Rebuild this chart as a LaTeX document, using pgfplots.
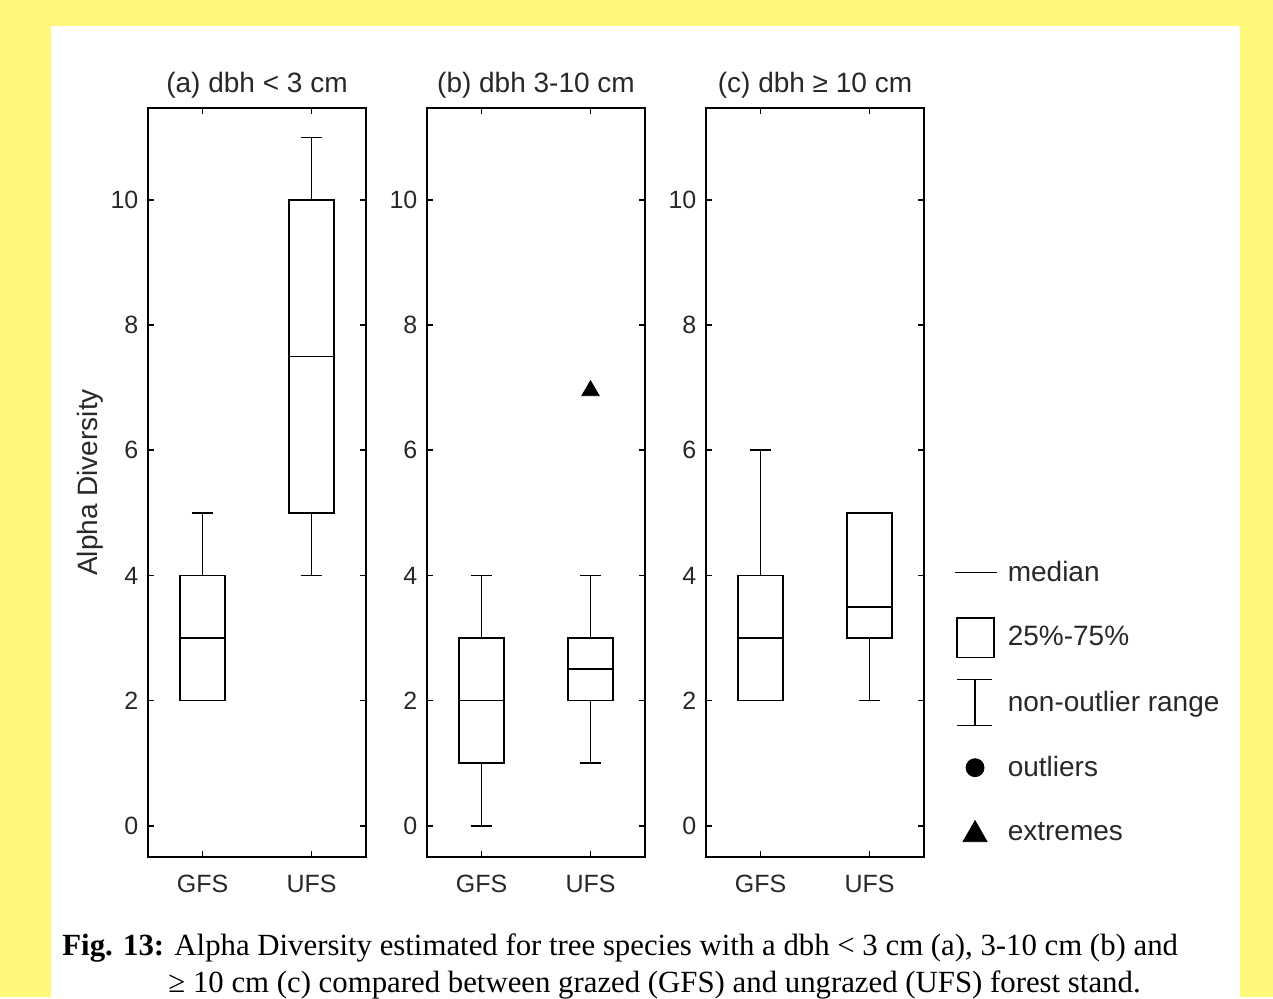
\documentclass[border=0pt]{standalone}
\usepackage{fontspec}
\setmainfont{Liberation Sans}
\newfontfamily\capfont{Liberation Serif}
\usepackage{pgfplots}
\pgfplotsset{compat=1.18}
\usepgfplotslibrary{statistics}
\definecolor{bgyellow}{RGB}{255,248,122}
\definecolor{txt}{RGB}{40,40,40}
\pgfplotsset{
  panel/.style={
    scale only axis, width=109pt, height=374.5pt,
    xmin=-0.5, xmax=1.5, ymin=-0.5, ymax=11.47,
    xtick={0,1}, xticklabels={GFS,UFS},
    ytick={0,2,4,6,8,10},
    /pgf/number format/assume math mode=true,
    tick align=inside, xtick pos=both, ytick pos=both,
    xticklabel pos=bottom, yticklabel pos=left,
    major tick length=3pt,
    axis line style={line width=1pt},
    every tick/.style={black, line width=0.8pt},
    tick label style={font=\fontsize{12.5}{15}\selectfont, text=txt},
    yticklabel style={xshift=-1.3pt},
    xticklabel style={yshift=-5.5pt},
    title style={font=\fontsize{14}{17}\selectfont, text=txt, at={(0.5,1)}, anchor=center, yshift=5.5pt},
    anchor=south west,
  },
  bx/.style={black, line width=0.8pt, solid},
  boxplot/every median/.style={line width=0.8pt},
  boxplot/every whisker/.style={line width=0.8pt},
  boxplot/every box/.style={line width=0.8pt},
}
\newcommand{\bp}[6]{\addplot[bx, boxplot/draw direction=y, boxplot prepared={draw position=#1, lower whisker=#2, lower quartile=#3, median=#4, upper quartile=#5, upper whisker=#6, box extend=0.41, whisker extend=0.2}] coordinates {};}
\begin{document}
\begin{tikzpicture}
\fill[bgyellow] (0,0) rectangle (636.5pt,-498.5pt);
\fill[white] (25.5pt,-13pt) rectangle (620pt,-498.5pt);

\begin{axis}[panel, at={(74pt,-428.5pt)}, title={(a) dbh < 3 cm},
  ylabel={Alpha Diversity},
  ylabel style={font=\fontsize{14}{17}\selectfont, text=txt, at={(axis description cs:-0.266,0.5)}, anchor=center}]
\bp{0}{2}{2}{3}{4}{5}
\bp{1}{4}{5}{7.5}{10}{11}
\end{axis}

\begin{axis}[panel, at={(213.5pt,-428.5pt)}, title={(b) dbh 3-10 cm}]
\bp{0}{0}{1}{2}{3}{4}
\bp{1}{1}{2}{2.5}{3}{4}
\addplot[only marks, mark=triangle*, mark size=5pt, black, yshift=-1.5pt] coordinates {(1,7)};
\end{axis}

\begin{axis}[panel, at={(353pt,-428.5pt)}, title={(c) dbh ≥ 10 cm},
  legend style={at={(axis description cs:1.139,0.417)}, anchor=north west, draw=none, fill=none,
    inner sep=0pt, outer sep=0pt, row sep=4.5pt, column sep=3pt,
    font=\fontsize{14}{17}\selectfont, text=txt},
  legend cell align=left]
\addlegendimage{legend image code/.code={
  \path[draw=none,fill=none] (0pt,-14pt) rectangle (21pt,14pt);
  \draw[black, line width=0.75pt] (0pt,0pt) -- (21pt,0pt);}}
\addlegendentry{median}
\addlegendimage{legend image code/.code={
  \path[draw=none,fill=none] (0pt,-14pt) rectangle (21pt,14pt);
  \draw[black, line width=0.75pt] (1pt,-10pt) rectangle (19.5pt,9.75pt);}}
\addlegendentry{25\%-75\%}
\addlegendimage{legend image code/.code={
  \path[draw=none,fill=none] (0pt,-14pt) rectangle (21pt,14pt);
  \draw[black, line width=0.75pt] (10pt,-11.5pt) -- (10pt,11.5pt) (1pt,-11.5pt) -- (18.5pt,-11.5pt) (1pt,11.5pt) -- (18.5pt,11.5pt);}}
\addlegendentry{non-outlier range}
\addlegendimage{legend image code/.code={
  \path[draw=none,fill=none] (0pt,-14pt) rectangle (21pt,14pt);
  \fill[black] (10pt,0pt) circle (4.5pt);}}
\addlegendentry{outliers}
\addlegendimage{legend image code/.code={
  \path[draw=none,fill=none] (0pt,-14pt) rectangle (21pt,14pt);
  \fill[black] (10pt,6pt) -- (4pt,-4.5pt) -- (16pt,-4.5pt) -- cycle;}}
\addlegendentry{extremes}
\bp{0}{2}{2}{3}{4}{6}
\bp{1}{2}{3}{3.5}{5}{5}
\end{axis}

\node[anchor=base west, inner sep=0pt, font=\capfont\fontsize{15.4}{18}\selectfont] at (31pt,-477.5pt)
  {\textbf{Fig. 13:} Alpha Diversity estimated for tree species with a dbh < 3 cm (a), 3-10 cm (b) and};
\node[anchor=base west, inner sep=0pt, font=\capfont\fontsize{15.4}{18}\selectfont] at (84pt,-496pt)
  {≥ 10 cm (c) compared between grazed (GFS) and ungrazed (UFS) forest stand.};
\end{tikzpicture}
\end{document}
